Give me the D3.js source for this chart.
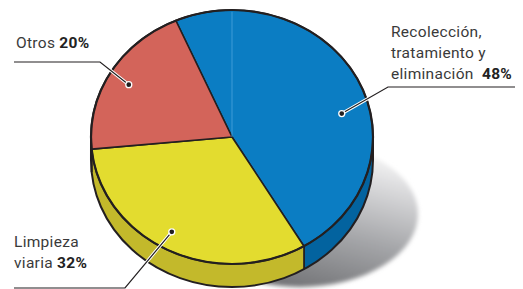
<!DOCTYPE html>
<html>
<head>
<meta charset="utf-8" />
<title>Gasto por servicio</title>
<style>
    body { margin: 0; background: #fff; }
    svg { display: block; }
    text { font-family: Roboto, "DejaVu Sans", sans-serif; font-size: 15.5px; fill: #3a3a3a; letter-spacing: 0.3px; white-space: pre; }
    .pct { font-weight: bold; fill: #222; }
</style>
</head>
<body>
<svg width="523" height="289"></svg>

<script src="https://cdn.jsdelivr.net/npm/d3@7"></script>
<script>
// datos
var categorias = ["Recolección, tratamiento y eliminación", "Limpieza viaria", "Otros"];
var valores = [48, 32, 20];
var etiquetas = [
    ["Recolección,", "tratamiento y", "eliminación  "],
    ["Limpieza", "viaria "],
    ["Otros "]
];
var colores = ["#0b7dc3", "#e3dc2f", "#d3645a"];
var coloresLado = ["#03639f", "#c3b92b", "#a84a42"];

var svg = d3.select("svg");

// elipse
var cx = 232, cy = 137, rx = 141, ry = 127, prof = 23;

function punto(a, dy) {
    return [cx + rx * Math.sin(a), cy - ry * Math.cos(a) + (dy || 0)];
}

var inicio = -0.41;
var pie = d3.pie().sort(null).value(function (d) { return d; })
    .startAngle(inicio).endAngle(inicio + 2 * Math.PI);
var arcos = pie(valores);

// sombra
var defs = svg.append("defs");
var grad = defs.append("linearGradient").attr("id", "gsombra")
    .attr("x1", 0.35).attr("y1", 1).attr("x2", 0.75).attr("y2", 0.05);
grad.append("stop").attr("offset", "0%").attr("stop-color", "#6e6f72");
grad.append("stop").attr("offset", "45%").attr("stop-color", "#a6a7aa");
grad.append("stop").attr("offset", "80%").attr("stop-color", "#d9d9db");
grad.append("stop").attr("offset", "100%").attr("stop-color", "#f7f7f7");
defs.append("filter").attr("id", "blur")
    .attr("x", "-20%").attr("y", "-20%").attr("width", "140%").attr("height", "140%")
    .append("feGaussianBlur").attr("stdDeviation", 2);

svg.append("ellipse")
    .attr("cx", 300).attr("cy", 214).attr("rx", 118).attr("ry", 73)
    .attr("fill", "url(#gsombra)")
    .attr("filter", "url(#blur)");

// lados (solo la mitad inferior)
var gLado = svg.append("g");
arcos.forEach(function (d, i) {
    var segs = [];
    [0, 2 * Math.PI].forEach(function (off) {
        var a0 = Math.max(d.startAngle, Math.PI / 2 + off);
        var a1 = Math.min(d.endAngle, 3 * Math.PI / 2 + off);
        if (a1 > a0) segs.push([a0, a1]);
    });
    segs.forEach(function (s) {
        var p0 = punto(s[0]), p1 = punto(s[1]);
        var q0 = punto(s[0], prof), q1 = punto(s[1], prof);
        var path = "M" + p0 + " A" + rx + "," + ry + " 0 0 1 " + p1 +
            " L" + q1 + " A" + rx + "," + ry + " 0 0 0 " + q0 + " Z";
        gLado.append("path").attr("d", path).attr("fill", coloresLado[i]);
        // brillo en el borde superior
        gLado.append("path")
            .attr("d", "M" + p0 + " A" + rx + "," + ry + " 0 0 1 " + p1)
            .attr("fill", "none").attr("stroke", d3.color(coloresLado[i]).brighter(0.6))
            .attr("stroke-width", 1.2).attr("opacity", 0.8);
    });
    // arista vertical
    [d.startAngle, d.endAngle].forEach(function (a) {
        var aa = ((a % (2 * Math.PI)) + 2 * Math.PI) % (2 * Math.PI);
        if (aa > Math.PI / 2 && aa < 3 * Math.PI / 2) {
            gLado.append("line")
                .attr("x1", punto(a)[0]).attr("y1", punto(a)[1])
                .attr("x2", punto(a, prof)[0]).attr("y2", punto(a, prof)[1])
                .attr("stroke", "#231f20").attr("stroke-width", 1.6);
        }
    });
});

// contorno del lado
var pL = punto(Math.PI * 1.5), pR = punto(Math.PI / 2);
svg.append("path")
    .attr("d", "M" + pR + " L" + punto(Math.PI / 2, prof) +
        " A" + rx + "," + ry + " 0 0 1 " + punto(Math.PI * 1.5, prof) + " L" + pL)
    .attr("fill", "none").attr("stroke", "#231f20").attr("stroke-width", 2);

// caras superiores
var gTop = svg.append("g");
arcos.forEach(function (d, i) {
    var p0 = punto(d.startAngle), p1 = punto(d.endAngle);
    var grande = (d.endAngle - d.startAngle) > Math.PI ? 1 : 0;
    gTop.append("path")
        .attr("d", "M" + cx + "," + cy + " L" + p0 + " A" + rx + "," + ry + " 0 " + grande + " 1 " + p1 + " Z")
        .attr("fill", colores[i])
        .attr("stroke", "#231f20").attr("stroke-width", 1.6).attr("stroke-linejoin", "round");
});

// linea clara vertical en el azul
gTop.append("line")
    .attr("x1", cx).attr("y1", cy - ry + 2).attr("x2", cx).attr("y2", cy)
    .attr("stroke", "#4aa3dc").attr("stroke-width", 1).attr("opacity", 0.8);

// contorno superior
svg.append("ellipse")
    .attr("cx", cx).attr("cy", cy).attr("rx", rx).attr("ry", ry)
    .attr("fill", "none").attr("stroke", "#231f20").attr("stroke-width", 2.2);

// etiquetas
var desvio = [0.24, 0.05, -0.02];
var radio = [0.8, 0.86, 0.84];
var cajas = [
    { x: 391, y: 37, dy: 21, lx0: 388, lx1: 515, ly: 87 },
    { x: 14, y: 247, dy: 21, lx0: 14, lx1: 125, ly: 288 },
    { x: 16, y: 48, dy: 21, lx0: 14, lx1: 100, ly: 62 }
];

arcos.forEach(function (d, i) {
    var c = cajas[i];
    var a = (d.startAngle + d.endAngle) / 2 + desvio[i];
    var px = cx + rx * radio[i] * Math.sin(a);
    var py = cy - ry * radio[i] * Math.cos(a);
    var codo = i === 0 ? c.lx0 : c.lx1;
    var fin = i === 0 ? c.lx1 : c.lx0;
    var linea = "M" + fin + "," + c.ly + " L" + codo + "," + c.ly + " L" + px + "," + py;

    svg.append("path").attr("d", linea).attr("fill", "none")
        .attr("stroke", "#fff").attr("stroke-width", 3.2);
    svg.append("path").attr("d", linea).attr("fill", "none")
        .attr("stroke", "#231f20").attr("stroke-width", 1.2);
    svg.append("circle").attr("cx", px).attr("cy", py).attr("r", 3)
        .attr("fill", "#231f20").attr("stroke", "#fff").attr("stroke-width", 1.3);

    var t = svg.append("text").attr("x", c.x).attr("y", c.y);
    etiquetas[i].forEach(function (l, j) {
        t.append("tspan").attr("x", c.x).attr("y", c.y + j * c.dy).text(l);
        if (j === etiquetas[i].length - 1) {
            t.append("tspan").attr("class", "pct").text(valores[i] + "%");
        }
    });
});
</script>
</body>
</html>
